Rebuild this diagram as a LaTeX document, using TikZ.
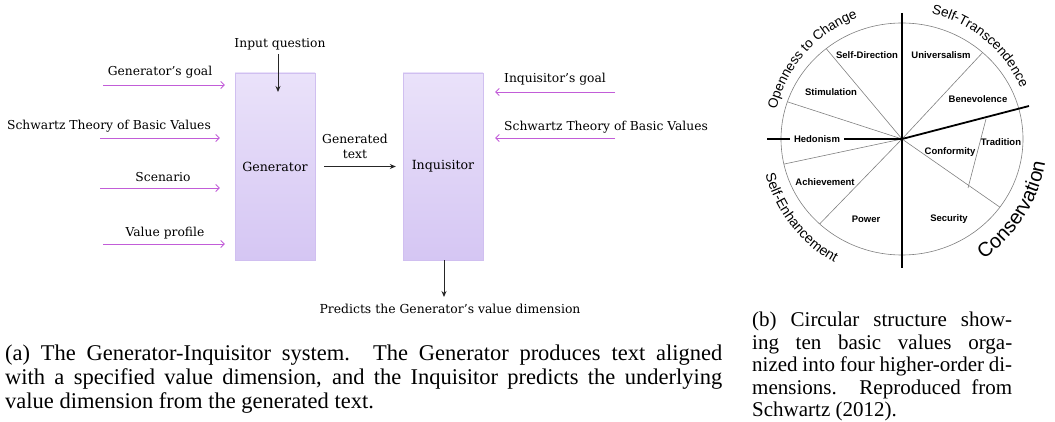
\documentclass[tikz,border=0pt]{standalone}
\usepackage{fontspec}
\setmainfont{DejaVu Serif}
\newfontfamily\capfont{Liberation Serif}
\newfontfamily\arialfont{Liberation Sans}
\usetikzlibrary{arrows.meta,positioning,decorations.text}
\definecolor{boxtop}{HTML}{EAE2FA}
\definecolor{boxbot}{HTML}{D5C6F3}
\definecolor{boxline}{HTML}{D0BFF0}
\definecolor{inpurple}{HTML}{C25DD8}
\definecolor{wheelgray}{HTML}{808080}

\begin{document}
\begin{tikzpicture}[x=1pt,y=-1pt,
    block/.style={draw=boxline, top color=boxtop, bottom color=boxbot,
      minimum width=80pt, minimum height=187pt, inner sep=0pt,
      font=\fontsize{12.6}{15}\selectfont},
    inarrow/.style={draw=inpurple, line width=0.9pt,
      -{Straight Barb[length=3.5pt,width=7pt]}},
    outarrow/.style={draw=black!85, line width=0.9pt,
      -{Stealth[length=6pt,width=5pt]}},
    lbl/.style={font=\fontsize{12.3}{15}\selectfont, inner sep=0pt},
    value/.style={font=\arialfont\bfseries\fontsize{9.5}{11}\selectfont, inner sep=1pt},
    caption/.style={anchor=north west, inner sep=0pt, align=justify}]
  \useasboundingbox (0,0) rectangle (1055,422);

  % (a) generator - inquisitor
  \node[block] (gen) at (275,166.5) {Generator};
  \node[block] (inq) at (443,166.5) {Inquisitor};

  \node[lbl] (inputq) at (280,44) {Input question};
  \draw[outarrow] (inputq.south -| 278,0) ++(0,4) -- (278,92);

  \node[lbl] (ggoal) at (160,72) {Generator's goal};
  \node[lbl] (gtheory) at (109,126) {Schwartz Theory of Basic Values};
  \node[lbl] (scen) at (163,177) {Scenario};
  \node[lbl] (vprof) at (165,233) {Value profile};
  \coordinate (g1) at (103,85);
  \coordinate (g2) at (100,138);
  \coordinate (g3) at (100,188);
  \coordinate (g4) at (103,244);
  \draw[inarrow, shorten >=10pt] (g1) -- (gen.west |- g1);
  \draw[inarrow, shorten >=15pt] (g2) -- (gen.west |- g2);
  \draw[inarrow, shorten >=15pt] (g3) -- (gen.west |- g3);
  \draw[inarrow, shorten >=10pt] (g4) -- (gen.west |- g4);

  \node[lbl, align=center] (gtext) at (355,146) {Generated\\text};
  \draw[outarrow, shorten <=9pt, shorten >=7pt] (gen.east) -- (inq.west);

  \node[lbl, anchor=west] (igoal) at (504,79) {Inquisitor's goal};
  \node[lbl, anchor=west] (itheory) at (504,127) {Schwartz Theory of Basic Values};
  \coordinate (i1) at (615,92);
  \coordinate (i2) at (615,138);
  \draw[inarrow, shorten >=12pt] (i1) -- (inq.east |- i1);
  \draw[inarrow, shorten >=12pt] (i2) -- (inq.east |- i2);

  \node[lbl, font=\fontsize{12.4}{14}\selectfont] (pred) at (450,309)
    {Predicts the Generator's value dimension};
  \draw[outarrow, shorten >=3pt] (inq.south -| 444,0) -- (444,300);

  \node[caption, text width=717pt, font=\capfont\fontsize{22.5}{24}\selectfont]
    (capa) at (5,345)
    {(a) The Generator-Inquisitor system.  The Generator produces text aligned\break
     with a specified value dimension, and the Inquisitor predicts the underlying\break
     value dimension from the generated text.};

  % (b) Schwartz circle
  \begin{scope}[shift={(902,139)}, y=1pt]
    \coordinate (ctr) at (0,0);
    \draw[wheelgray, line width=0.6pt] (ctr) ellipse[x radius=121, y radius=116];
    \foreach \a in {128.8,161.3,192.5,227.1,48.2,-36}
      \draw[wheelgray, line width=0.6pt] (ctr) -- (\a:121 and 116);
    \draw[wheelgray, line width=0.6pt] (84,20) -- (66,-49);
    \draw[line width=1.8pt] (0,126) -- (0,-129);
    \draw[line width=1.8pt] (-135,0) -- (ctr);
    \draw[line width=1.8pt] (ctr) -- (127,33);

    \node[value] (sdir) at (-35,84) {Self-Direction};
    \node[value] (univ) at (39,84) {Universalism};
    \node[value] (stim) at (-71,47) {Stimulation};
    \node[value] (bene) at (76,40) {Benevolence};
    \node[value, fill=white, inner xsep=4pt] (hedo) at (-85,0) {Hedonism};
    \node[value] (trad) at (99,-3) {Tradition};
    \node[value] (conf) at (48,-13) {Conformity};
    \node[value] (achi) at (-77,-43) {Achievement};
    \node[value] (powr) at (-36,-80) {Power};
    \node[value] (secu) at (47,-80) {Security};

    \path[decorate, decoration={text along path, text align=center,
      text={|\arialfont\fontsize{13.5}{15}\selectfont|Openness to Change}}]
      (185:129) arc[start angle=185, end angle=92, radius=129];
    \path[decorate, decoration={text along path, text align=center,
      text={|\arialfont\fontsize{13.5}{15}\selectfont|Self-Transcendence}}]
      (97:129) arc[start angle=97, end angle=3, radius=129];
    \path[decorate, decoration={text along path, text align=center,
      text={|\arialfont\fontsize{14}{16}\selectfont|Self-Enhancement}}]
      (172:141) arc[start angle=172, end angle=264, radius=141];
    \path[decorate, decoration={text along path, text align=center,
      text={|\arialfont\fontsize{20}{22}\selectfont|Conservation}}]
      (-80:145) arc[start angle=-80, end angle=15, radius=145];
  \end{scope}

  \node[caption, text width=260pt, font=\capfont\fontsize{21}{22.5}\selectfont]
    (capb) at (752,312)
    {(b) Circular structure show-\break
     ing ten basic values orga-\break
     nized into four higher-order di-\break
     mensions.  Reproduced from\break
     Schwartz (2012).};
\end{tikzpicture}
\end{document}
